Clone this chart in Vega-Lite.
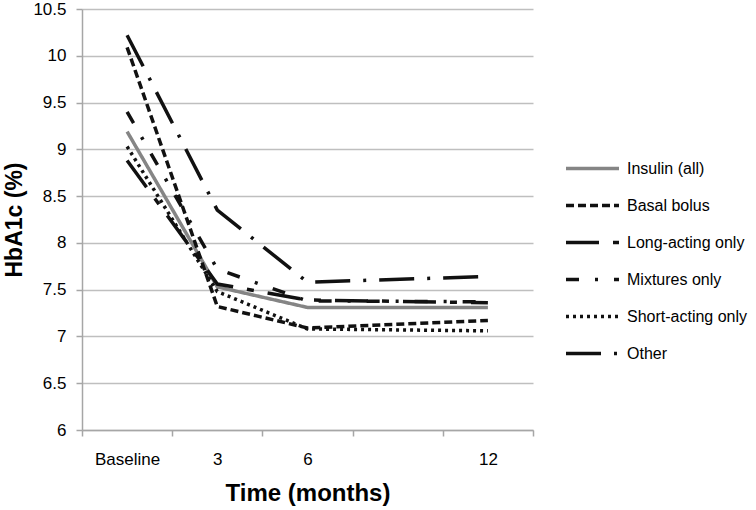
{
  "$schema": "https://vega.github.io/schema/vega-lite/v6.json",
  "width": 451,
  "height": 421,
  "autosize": {"type": "none"},
  "padding": {"left": 82, "top": 9, "right": 223, "bottom": 80},
  "background": "white",
  "config": {"view": {"stroke": null}, "font": "Liberation Sans"},
  "data": {
    "values": [
      {"group": "Insulin (all)", "month": 0, "hba1c": 9.19},
      {"group": "Insulin (all)", "month": 3, "hba1c": 7.53},
      {"group": "Insulin (all)", "month": 6, "hba1c": 7.31},
      {"group": "Insulin (all)", "month": 12, "hba1c": 7.31},
      {"group": "Basal bolus", "month": 0, "hba1c": 10.09},
      {"group": "Basal bolus", "month": 3, "hba1c": 7.32},
      {"group": "Basal bolus", "month": 6, "hba1c": 7.09},
      {"group": "Basal bolus", "month": 12, "hba1c": 7.17},
      {"group": "Long-acting only", "month": 0, "hba1c": 8.88},
      {"group": "Long-acting only", "month": 3, "hba1c": 7.56},
      {"group": "Long-acting only", "month": 6, "hba1c": 7.39},
      {"group": "Long-acting only", "month": 12, "hba1c": 7.36},
      {"group": "Mixtures only", "month": 0, "hba1c": 9.4},
      {"group": "Mixtures only", "month": 3, "hba1c": 7.72},
      {"group": "Mixtures only", "month": 6, "hba1c": 7.38},
      {"group": "Mixtures only", "month": 12, "hba1c": 7.37},
      {"group": "Short-acting only", "month": 0, "hba1c": 9.03},
      {"group": "Short-acting only", "month": 3, "hba1c": 7.48},
      {"group": "Short-acting only", "month": 6, "hba1c": 7.08},
      {"group": "Short-acting only", "month": 12, "hba1c": 7.06},
      {"group": "Other", "month": 0, "hba1c": 10.22},
      {"group": "Other", "month": 3, "hba1c": 8.35},
      {"group": "Other", "month": 6, "hba1c": 7.58},
      {"group": "Other", "month": 12, "hba1c": 7.64}
    ]
  },
  "mark": {"type": "line", "strokeWidth": 3.5, "clip": false},
  "encoding": {
    "x": {
      "field": "month",
      "type": "quantitative",
      "title": "Time (months)",
      "scale": {"domain": [-1.5, 13.5], "nice": false, "zero": false},
      "axis": {
        "values": [-1.5, 0, 1.5, 3, 4.5, 6, 7.5, 10.5, 12, 13.5],
        "labelExpr": "datum.value == 0 ? 'Baseline' : (datum.value == 3 || datum.value == 6 || datum.value == 12) ? datum.label : ''",
        "tickOpacity": {"condition": {"test": "datum.value == 0 || datum.value == 3 || datum.value == 6 || datum.value == 12", "value": 0}, "value": 1},
        "tickSize": 6,
        "tickColor": "#a6a6a6",
        "tickWidth": 1.5,
        "domainColor": "#a6a6a6",
        "domainWidth": 1.5,
        "grid": false,
        "labelFontSize": 17,
        "labelColor": "#000000",
        "labelPadding": 15,
        "labelOverlap": false,
        "titleFontSize": 24,
        "titleFontWeight": "bold",
        "titleColor": "#000000",
        "titlePadding": 14
      }
    },
    "y": {
      "field": "hba1c",
      "type": "quantitative",
      "title": "HbA1c (%)",
      "scale": {"domain": [6, 10.5], "nice": false, "zero": false},
      "axis": {
        "values": [6, 6.5, 7, 7.5, 8, 8.5, 9, 9.5, 10, 10.5],
        "format": "~g",
        "grid": true,
        "gridColor": "#bfbfbf",
        "gridWidth": 1.5,
        "tickColor": "#a6a6a6",
        "tickSize": 6,
        "tickWidth": 1.5,
        "domainColor": "#a6a6a6",
        "domainWidth": 1.5,
        "labelFontSize": 17,
        "labelColor": "#000000",
        "labelPadding": 10,
        "titleFontSize": 23,
        "titleFontWeight": "bold",
        "titleColor": "#000000",
        "titlePadding": 6
      }
    },
    "color": {
      "field": "group",
      "type": "nominal",
      "scale": {
        "domain": ["Insulin (all)", "Basal bolus", "Long-acting only", "Mixtures only", "Short-acting only", "Other"],
        "range": ["#858585", "#111111", "#111111", "#111111", "#111111", "#111111"]
      },
      "legend": {
        "orient": "none",
        "legendX": 482,
        "legendY": 131,
        "title": null,
        "symbolType": "stroke",
        "symbolSize": 2809,
        "symbolStrokeWidth": 3.5,
        "labelFontSize": 16,
        "labelColor": "#000000",
        "labelOffset": 6,
        "labelLimit": 300,
        "rowPadding": -13.4
      }
    },
    "strokeDash": {
      "field": "group",
      "type": "nominal",
      "scale": {
        "domain": ["Insulin (all)", "Basal bolus", "Long-acting only", "Mixtures only", "Short-acting only", "Other"],
        "range": [[1, 0], [8, 4], [33, 14, 7, 14], [13, 16, 3, 16], [3, 4], [35, 13, 3, 13]]
      },
      "legend": {
        "orient": "none",
        "legendX": 482,
        "legendY": 131,
        "title": null,
        "symbolType": "stroke",
        "symbolSize": 2809,
        "symbolStrokeWidth": 3.5,
        "labelFontSize": 16,
        "labelColor": "#000000",
        "labelOffset": 6,
        "labelLimit": 300,
        "rowPadding": -13.4
      }
    }
  }
}
